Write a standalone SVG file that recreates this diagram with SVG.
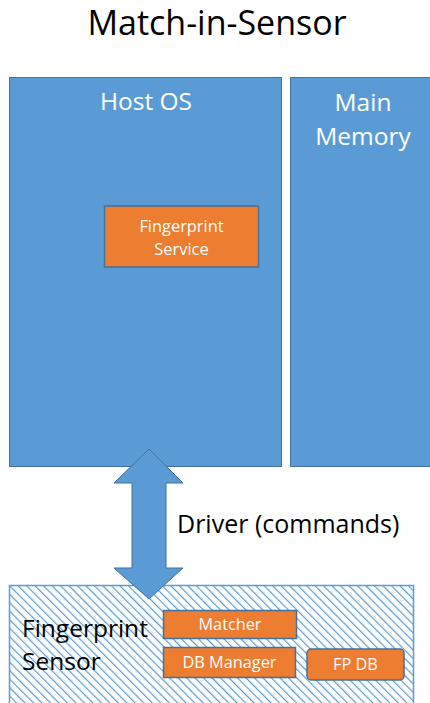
<svg xmlns="http://www.w3.org/2000/svg" width="430" height="703" viewBox="0 0 430 703">
  <style>
    .box { fill: #5b9bd5; stroke: #41719c; stroke-width: 1; }
    .comp { fill: #ed7d31; stroke: #41719c; stroke-width: 1.5; }
    .lbl { font-family: "Open Sans", "Liberation Sans", sans-serif; }
    .white { fill: #ffffff; }
    .dark { fill: #000000; }
  </style>
  <defs>
    <pattern id="hatch" patternUnits="userSpaceOnUse" width="6" height="6" patternTransform="rotate(-45)">
      <rect width="6" height="6" fill="#ffffff"/>
      <line x1="0" y1="0" x2="0" y2="6" stroke="#5b9bd5" stroke-width="2.4"/>
    </pattern>
  </defs>

  <text class="lbl dark" x="217" y="35" font-size="34" text-anchor="middle">Match-in-Sensor</text>

  <g id="host-os">
    <rect class="box" x="9.5" y="77.5" width="272" height="389"/>
    <text class="lbl white" x="146" y="110" font-size="24.5" text-anchor="middle">Host OS</text>
  </g>

  <g id="main-memory">
    <rect class="box" x="290.5" y="77.5" width="145" height="389"/>
    <text class="lbl white" x="363" y="111" font-size="24.5" text-anchor="middle">Main</text>
    <text class="lbl white" x="363" y="145" font-size="24.5" text-anchor="middle">Memory</text>
  </g>

  <g id="fingerprint-service">
    <rect class="comp" x="104.5" y="206" width="154" height="61"/>
    <text class="lbl white" x="181.5" y="232" font-size="16.4" text-anchor="middle">Fingerprint</text>
    <text class="lbl white" x="181.5" y="255" font-size="16.4" text-anchor="middle">Service</text>
  </g>

  <g id="fingerprint-sensor">
    <rect x="9.5" y="585.5" width="404" height="130" fill="url(#hatch)" stroke="#5b9bd5" stroke-width="1.5"/>
    <text class="lbl dark" x="22" y="637" font-size="24.5">Fingerprint</text>
    <text class="lbl dark" x="22" y="670" font-size="24.5">Sensor</text>
  </g>

  <g id="matcher">
    <rect class="comp" x="163.5" y="610.5" width="133" height="28"/>
    <text class="lbl white" x="230" y="630" font-size="16.3" text-anchor="middle">Matcher</text>
  </g>

  <g id="db-manager">
    <rect class="comp" x="163.5" y="647.5" width="132" height="30"/>
    <text class="lbl white" x="229.5" y="668" font-size="16.3" text-anchor="middle">DB Manager</text>
  </g>

  <g id="fp-db">
    <rect class="comp" x="307" y="649" width="97" height="31" rx="4"/>
    <text class="lbl white" x="355.5" y="670" font-size="16.3" text-anchor="middle">FP DB</text>
  </g>

  <g id="connectors">
    <path d="M149 449 L183 483 L166 483 L166 568 L183 568 L149 599 L114 568 L132 568 L132 483 L114 483 Z" fill="#5b9bd5" stroke="#41719c" stroke-width="1"/>
    <text class="lbl dark" x="177" y="533" font-size="25">Driver (commands)</text>
  </g>
</svg>
